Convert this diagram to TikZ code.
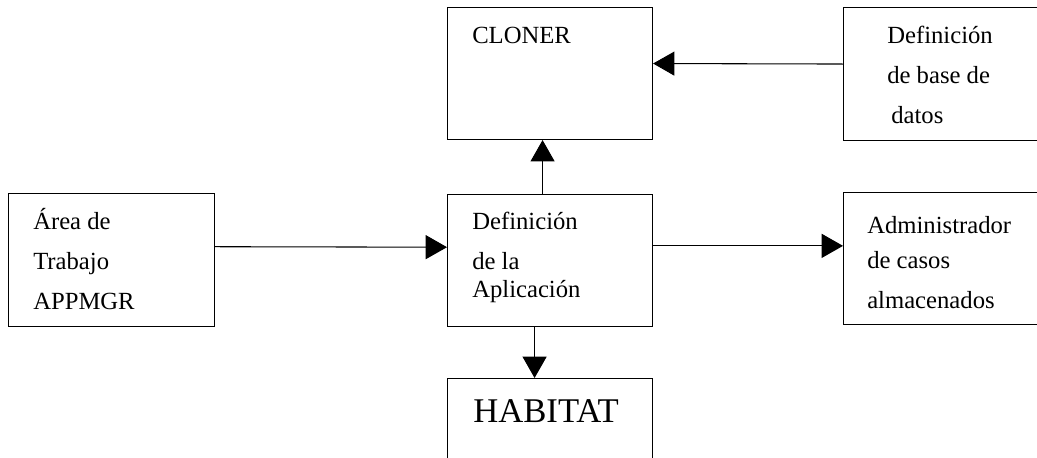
\documentclass[tikz,border=0pt]{standalone}
\usepackage{fontspec}
\setmainfont{Liberation Serif}
\usetikzlibrary{arrows.meta}

\begin{document}
\begin{tikzpicture}[x=0.75pt,y=-0.75pt,
   box/.style={draw,line width=0.8pt,inner sep=0pt,anchor=north west},
   sz/.style 2 args={minimum width=#1*0.75pt,minimum height=#2*0.75pt},
   txt/.style={inner sep=0pt,anchor=base west,align=left,
      font=\fontsize{18.5pt}{30pt}\selectfont},
   arr/.style={line width=0.8pt,-{Triangle[length=16pt,width=18pt]}}]
   \useasboundingbox (0,0) rectangle (1037,457);
   \clip (0,0) rectangle (1037,457);
   % boxes
   \node[box,sz={205}{132}] (cloner)  at (447,7)   {};
   \node[box,sz={220}{133}] (dbdef)   at (843,7)   {};
   \node[box,sz={206}{133}] (area)    at (8,193)   {};
   \node[box,sz={205}{132}] (appdef)  at (447,194) {};
   \node[box,sz={220}{132}] (admin)   at (843,192) {};
   \node[box,sz={205}{120}] (habitat) at (447,378) {};
   % texts (base = last line)
   \node[txt] (clonertxt) at ([shift={(25,36)}]cloner.north west) {CLONER};
   \node[txt] (dbdeftxt) at ([shift={(44,116)}]dbdef.north west)
      {Definición\\de base de\\\hspace{3pt}datos};
   \node[txt] (areatxt) at ([shift={(25,116)}]area.north west)
      {Área de\\Trabajo\\APPMGR};
   \node[txt] (appdeftxt) at ([shift={(25,103)}]appdef.north west)
      {Definición\\de la\\[-9pt]Aplicación};
   \node[txt] (admintxt) at ([shift={(24,116)}]admin.north west)
      {Administrador\\[-4pt]de casos\\almacenados};
   \node[txt,font=\fontsize{26pt}{30pt}\selectfont] (habitattxt)
      at ([shift={(26,44)}]habitat.north west) {HABITAT};
   % connectors
   \draw[arr] ([yshift=7.5pt]dbdef.west) -- ([yshift=7.5pt]cloner.east);
   \draw[arr] ([xshift=-5.6pt]appdef.north) -- ([xshift=-5.6pt]cloner.south);
   \draw[arr] ([yshift=10pt]area.east) -- ([yshift=10pt]appdef.west);
   \draw[arr] ([yshift=11pt]appdef.east) -- ([yshift=11pt]admin.west |- appdef.east);
   \draw[arr] ([xshift=-11.6pt]appdef.south) -- ([xshift=-11.6pt]habitat.north);
\end{tikzpicture}
\end{document}
